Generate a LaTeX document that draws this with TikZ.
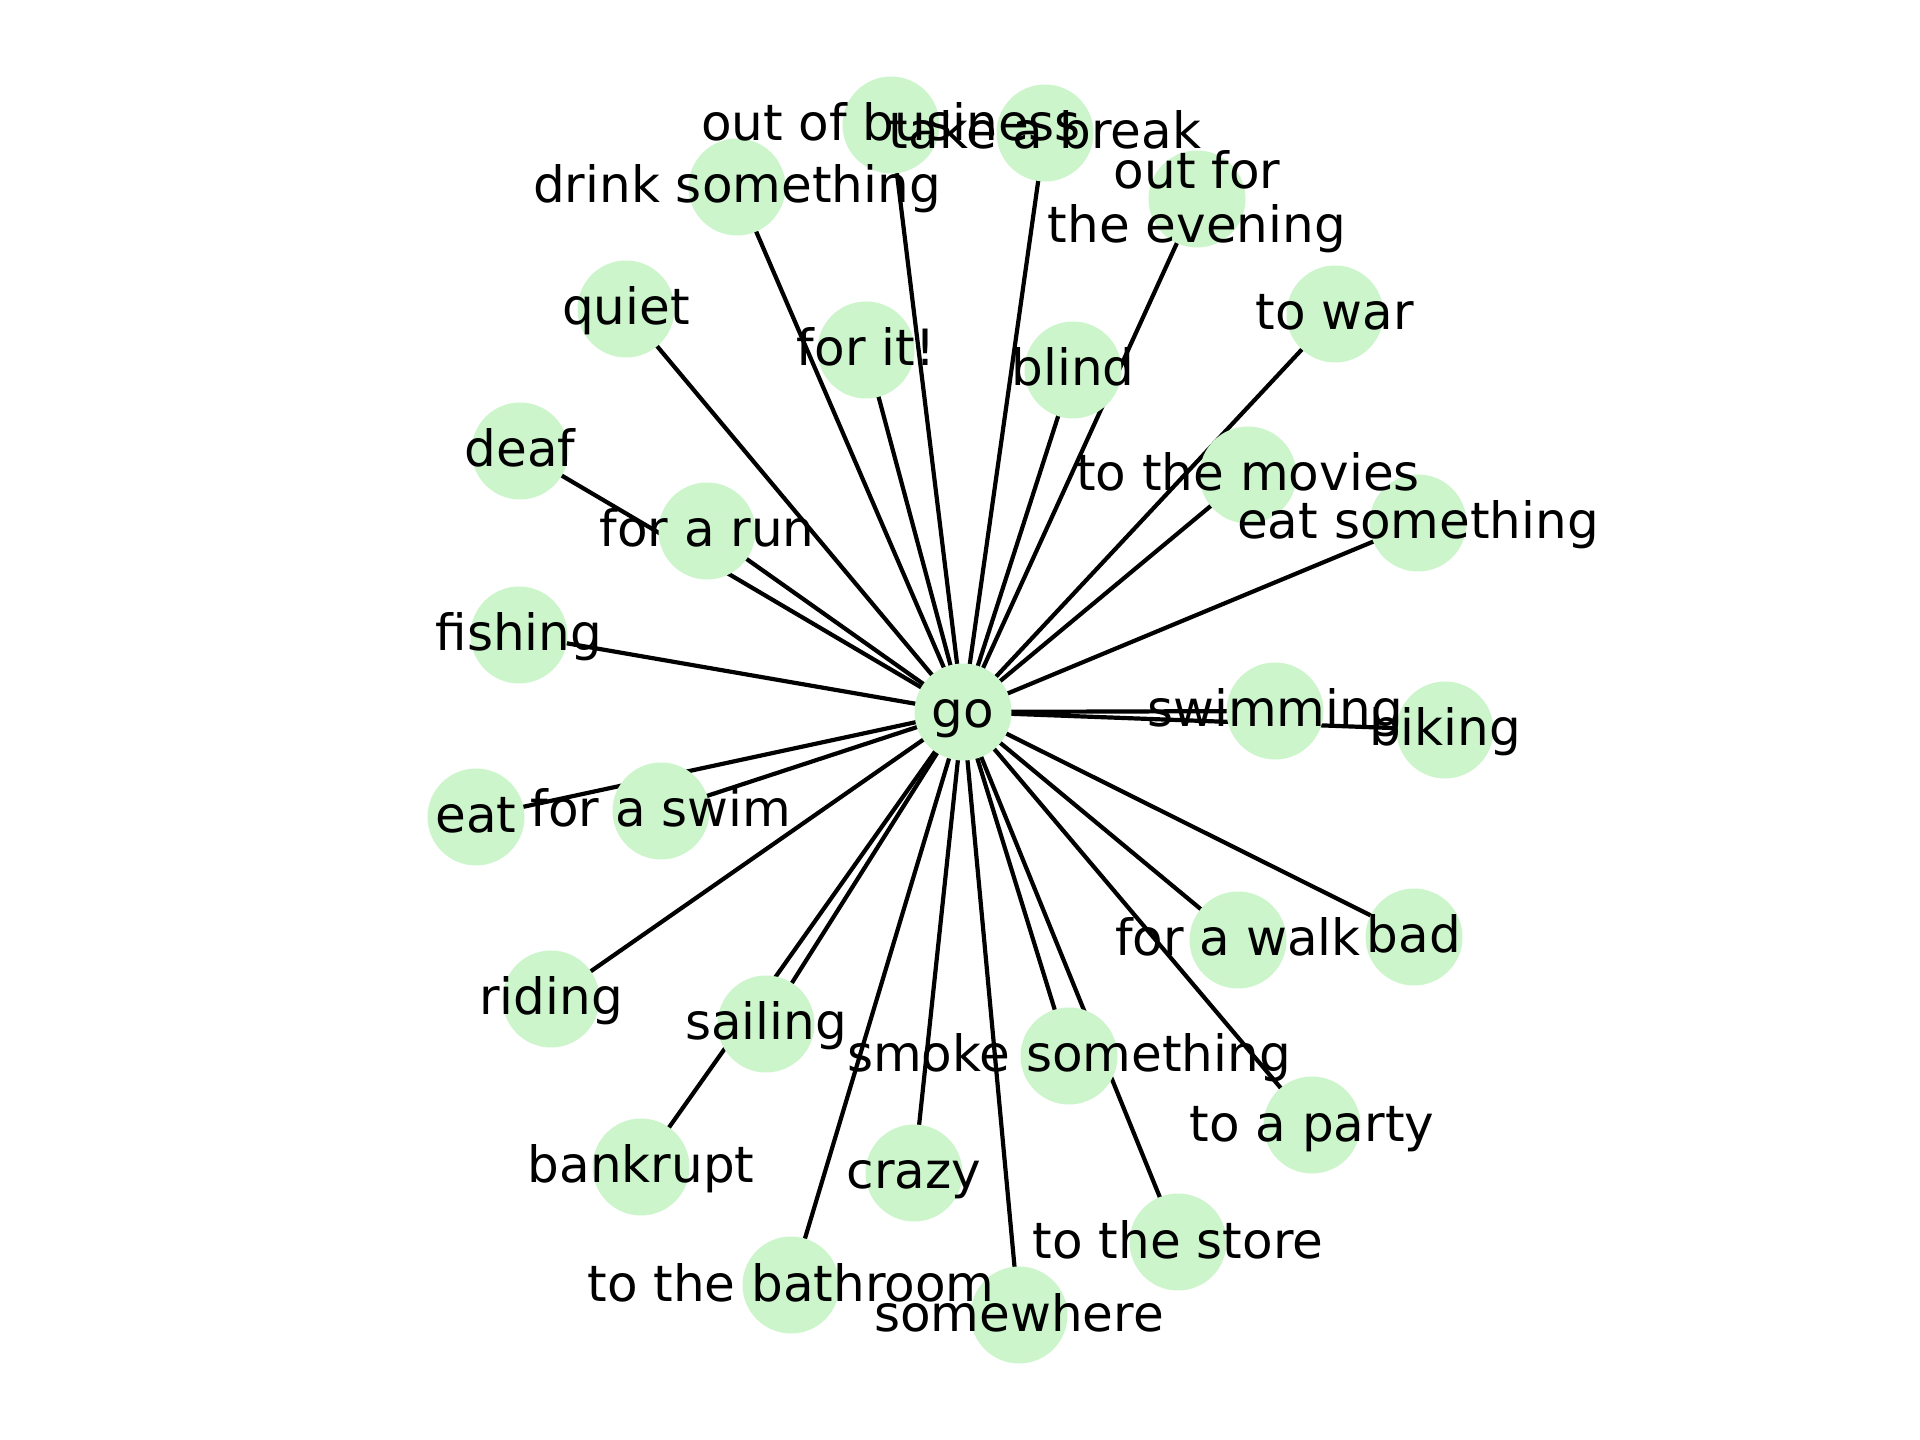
\documentclass[tikz,border=0pt]{standalone}
\usepackage{fontspec}
\setmainfont{DejaVu Sans}
\usetikzlibrary{backgrounds}
\definecolor{nodegreen}{RGB}{204,245,204}
\begin{document}
\begin{tikzpicture}[x=0.1mm,y=-0.1mm,
  vtx/.style={circle,fill=nodegreen,draw=none,minimum size=9.7mm,inner sep=0pt},
  lbl/.style={font=\fontsize{14.23pt}{15.37pt}\selectfont,inner sep=0pt,anchor=base,text=black},
  edgeline/.style={line width=0.42mm,black}]
\useasboundingbox (0,0) rectangle (1920,1440);
% vertices
\foreach \nm/\px/\py in {go/963/712, outbiz/891/125, break/1045/133, drink/737/187,
  evening/1197/199, quiet/626/309, forit/866/350, blind/1073/370, war/1335/314,
  deaf/520/451, movies/1248/475, eatsth/1418/523, run/707/531, fishing/519/635,
  swimming/1275/711, biking/1445/730, eat/476/817, swim/661/811, walk/1238/940,
  bad/1414/937, riding/551/999, sailing/766/1024, smoke/1069/1056, party/1312/1125,
  bankrupt/641/1167, crazy/914/1173, store/1178/1242, bathroom/791/1285,
  somewhere/1019/1315}
  \node[vtx] (\nm) at (\px,\py) {};
% edges
\begin{scope}[on background layer]
\foreach \nm in {outbiz, break, drink, evening, quiet, forit, blind, war, deaf,
  movies, eatsth, run, fishing, swimming, biking, eat, swim, walk, bad, riding,
  sailing, smoke, party, bankrupt, crazy, store, bathroom, somewhere}
  \draw[edgeline] (go.center) -- (\nm.center);
\end{scope}
% labels
\foreach \nm/\txt in {go/go, outbiz/out of business, break/take a break,
  drink/drink something, quiet/quiet, forit/for it!, blind/blind, war/to war,
  deaf/deaf, movies/to the movies, eatsth/eat something, run/for a run,
  fishing/fishing, swimming/swimming, biking/biking, eat/eat, swim/for a swim,
  walk/for a walk, bad/bad, riding/riding, sailing/sailing,
  smoke/smoke something, party/to a party, bankrupt/bankrupt, crazy/crazy,
  store/to the store, bathroom/to the bathroom, somewhere/somewhere}
  \node[lbl] (\nm-l) at ([yshift=-1.6mm]\nm.center) {\txt};
\node[lbl,anchor=center,align=center] (evening-l) at ([yshift=-0.3mm]evening.center) {out for\\the evening};
\end{tikzpicture}
\end{document}
